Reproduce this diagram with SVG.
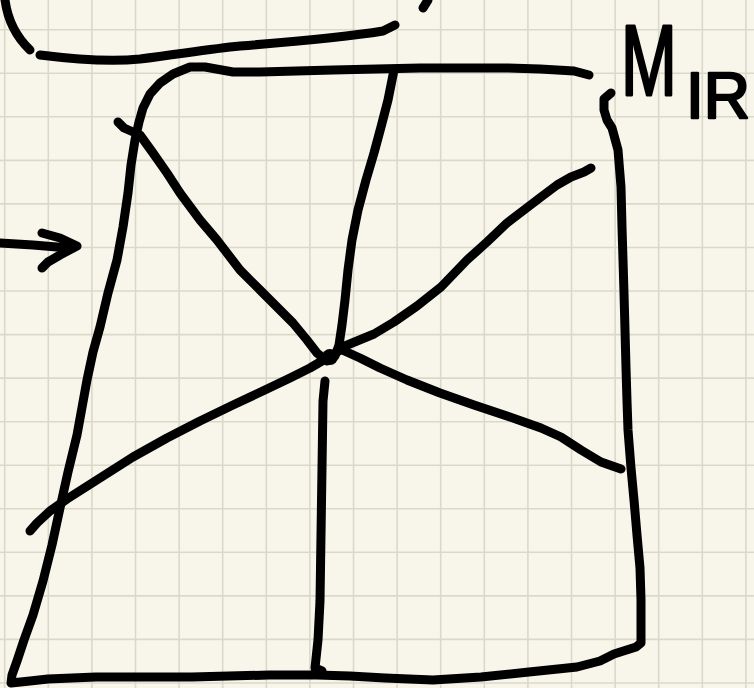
<svg xmlns="http://www.w3.org/2000/svg" width="754" height="688" viewBox="0 0 754 688">
<style>
.ink{fill:none;stroke:#000;stroke-width:9;stroke-linecap:round;stroke-linejoin:round}
.grid{fill:none;stroke:#dad9c9;stroke-width:1.6}
.lbl{font-family:"Liberation Sans","DejaVu Sans",sans-serif;fill:#000;stroke:#000;stroke-linejoin:round}
</style>
<rect width="754" height="688" fill="#f8f6ea"/>
<g id="grid">
<path class="grid" d="M4.7,0V688M48.3,0V688M91.9,0V688M135.5,0V688M179.1,0V688M222.7,0V688M266.3,0V688M309.9,0V688M353.5,0V688M397.1,0V688M440.7,0V688M484.3,0V688M527.9,0V688M571.5,0V688M615.1,0V688M658.7,0V688M702.3,0V688M745.9,0V688"/>
<path class="grid" d="M0,29.7H754M0,73.3H754M0,116.8H754M0,160.4H754M0,203.9H754M0,247.5H754M0,291H754M0,334.6H754M0,378.1H754M0,421.7H754M0,465.2H754M0,508.8H754M0,552.3H754M0,595.9H754M0,639.4H754M0,683H754"/>
</g>
<g id="top-fragments">
<path class="ink" d="M5,0 Q9,30 30,50"/>
<path class="ink" d="M40,55 C80,60 110,62 140,59 C180,54 210,49 240,46 C290,42 340,38 383,31 L395,25"/>
<path class="ink" d="M423,8 L428,0"/>
</g>
<g id="arrow">
<path class="ink" d="M0,243 L33,245 L57,247 L67,247"/>
<path class="ink" d="M42,233 L60,238 L77,246 L60,255 L48,262 L42,268"/>
</g>
<g id="frame">
<path class="ink" d="M589,75 L574,71 L540,69 L507,68 L420,68 L333,70 L260,72 L233,72 L205,67 L190,67 L173,74 L160,83 L150,94 L143,108 L139,122 L135,140 L131,165 L128,193 L123,227 L117,260 L108,293 L100,327 L93,352 L87,380 L77,435 L68,472 L60,508 L52,545 L43,581 L33,615 L24,640 L17,661 L12,675 L11,683 L30,681 L48,679 L96,677 L192,677 L269,675 L317,675 L350,676 L385,678 L433,680 L481,677 L529,672 L577,667 L600,661 L614,654 L636,647 L641,643 L641,600 L640,568 L637,535 L634,500 L631,468 L628,430 L627,401 L626,368 L625,330 L624,293 L622,227 L621,187 L618,150 L612,128 L607,120 L604,110 L604,99 L611,93"/>
</g>
<g id="spokes">
<path class="ink" d="M118,122 L124,128 L140,135 L153,153 L167,173 L180,193 L200,220 L217,240 L240,270 L260,290 L277,307 L293,323 L307,340 L317,353 L327,361"/>
<path class="ink" d="M394,70 L388,100 L381,127 L374,153 L366,180 L358,210 L352,240 L348,270 L345,300 L342,325 L339,345 L335,356"/>
<path class="ink" d="M340,348 L357,341 L374,334 L394,322 L417,306 L441,287 L467,260 L487,242 L507,223 L524,210 L541,197 L557,185 L571,177 L584,172 L591,168"/>
<path class="ink" d="M340,349 L360,358 L380,368 L407,380 L440,393 L474,405 L507,416 L541,428 L561,437 L581,450 L601,462 L621,469"/>
<path class="ink" d="M327,358 L310,368 L290,378 L267,389 L233,405 L200,421 L167,438 L133,457 L100,478 L67,499 L50,511 L37,523 L30,531"/>
<path class="ink" d="M325,381 L323,401 L322,468 L321,535 L320,601 L318,640 L315,668 L322,671"/>
<circle cx="330" cy="357" r="8" fill="#000"/>
<circle cx="338" cy="351" r="5" fill="#000"/>
</g>
<g id="label">
<text class="lbl" transform="translate(621,95) scale(0.67,1)" x="0" y="0" font-size="100" stroke-width="3">M</text>
<text class="lbl" x="686" y="118" font-size="64" stroke-width="2.5">IR</text>
</g>
</svg>
